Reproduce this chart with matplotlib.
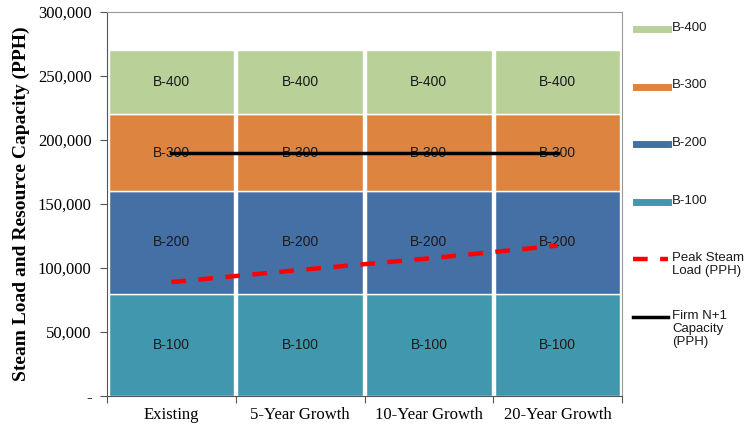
import matplotlib.pyplot as plt
import numpy as np
from matplotlib.lines import Line2D

# ---------------- données ----------------
categories = ['Existing', '5-Year Growth', '10-Year Growth', '20-Year Growth']
b100 = [80000, 80000, 80000, 80000]
b200 = [80000, 80000, 80000, 80000]
b300 = [60000, 60000, 60000, 60000]
b400 = [50000, 50000, 50000, 50000]
peak_load = [89000, 98500, 107500, 117500]
firm_capacity = [190000, 190000, 190000, 190000]

couleurs = {'B-100': '#4198AE', 'B-200': '#4570A6', 'B-300': '#DD8441', 'B-400': '#B9D099'}

# ---------------- figure ----------------
W, H = 746, 424
fig = plt.figure(figsize=(W / 100, H / 100), dpi=100)
ax = fig.add_axes([107 / W, 1 - 396 / H, 515 / W, 384 / H])

x = np.arange(len(categories))
bas = np.zeros(len(categories))
for nom, vals in [('B-100', b100), ('B-200', b200), ('B-300', b300), ('B-400', b400)]:
    barres = ax.bar(x, vals, bottom=bas, width=0.975, color=couleurs[nom],
                    edgecolor='white', linewidth=1.0, zorder=2)
    ax.bar_label(barres, labels=[nom] * len(vals), label_type='center',
                 fontsize=10, family='Liberation Sans', color='#1a1a1a')
    bas += np.array(vals)

ax.plot(x, peak_load, '--', color='#FF0000', lw=3.2, dashes=(3.3, 2.8), zorder=3)
ax.plot(x, firm_capacity, '-', color='black', lw=2.5, zorder=3)

# axes
ax.set_xlim(-0.5, 3.5)
ax.set_ylim(0, 300000)
ax.set_yticks(np.arange(0, 300001, 50000))
ax.set_yticklabels(['-'] + ['{:,}'.format(v) for v in range(50000, 300001, 50000)],
                   family='Liberation Serif', fontsize=12)
ax.set_xticks([-0.5, 0.5, 1.5, 2.5, 3.5])
ax.set_xticklabels([])
ax.set_xticks(x, minor=True)
ax.set_xticklabels(categories, minor=True, family='Liberation Serif', fontsize=12)
ax.tick_params(axis='x', which='minor', length=0, pad=8)
ax.tick_params(axis='x', which='major', length=5, color='#555555')
ax.tick_params(axis='y', length=5, color='#555555', pad=6)
ax.set_ylabel('Steam Load and Resource Capacity (PPH)', family='Liberation Serif',
              fontsize=14, fontweight='bold', labelpad=6)
for cote in ['top', 'right']:
    ax.spines[cote].set_color('#999999')
for cote in ['left', 'bottom']:
    ax.spines[cote].set_color('#555555')

# légende (placée à la main, poignée alignée sur la première ligne)
entrees = [('B-400', dict(color=couleurs['B-400'], lw=5)),
           ('B-300', dict(color=couleurs['B-300'], lw=5)),
           ('B-200', dict(color=couleurs['B-200'], lw=5)),
           ('B-100', dict(color=couleurs['B-100'], lw=5)),
           ('Peak Steam\nLoad (PPH)', dict(color='#FF0000', lw=3.2, ls='--', dashes=(3.3, 2.8))),
           ('Firm N+1\nCapacity\n(PPH)', dict(color='black', lw=2.5))]
for i, (texte, style) in enumerate(entrees):
    yc = 1 - (29 + i * 57.6) / H
    x0 = 636 / W if i < 4 else 633 / W
    fig.add_artist(Line2D([x0, 668 / W], [yc, yc], transform=fig.transFigure, **style))
    fig.text(672 / W, yc + 7.2 / H, texte, va='top', ha='left', fontsize=9.5,
             family='Liberation Sans', linespacing=1.12, color='#1a1a1a')

fig.savefig('out.png', dpi=100)
